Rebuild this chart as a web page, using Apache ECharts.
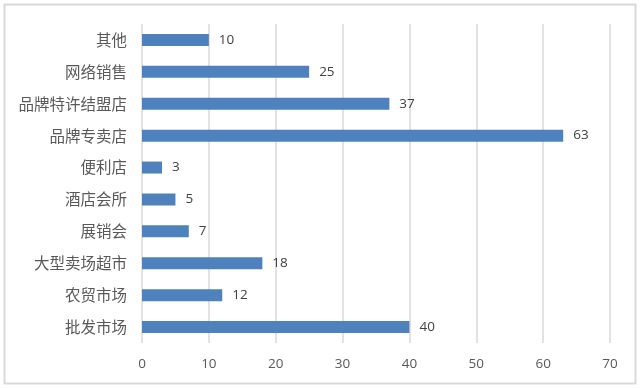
<!DOCTYPE html>
<html><head><meta charset="utf-8">
<script src="https://cdn.jsdelivr.net/npm/echarts@6/dist/echarts.min.js"></script>
<style>html,body{margin:0;padding:0;background:#fff}#c{width:640px;height:388px}</style>
</head><body><div id="c"></div>
<script>
const categories = ['其他','网络销售','品牌特许结盟店','品牌专卖店','便利店','酒店会所','展销会','大型卖场超市','农贸市场','批发市场'];
const values = [10,25,37,63,3,5,7,18,12,40];
const xTicks = [0,10,20,30,40,50,60,70];

const chart = echarts.init(document.getElementById('c'), null, {renderer:'canvas'});
chart.setOption({
  animation:false,
  backgroundColor:'#fff',
  graphic:[{type:'rect',shape:{x:4.5,y:4.5,width:631,height:379},style:{fill:'none',stroke:'#d9d9d9',lineWidth:2},silent:true}],
  grid:{left:142,right:30,top:24,bottom:45,containLabel:false},
  xAxis:{type:'value',min:xTicks[0],max:xTicks[xTicks.length-1],interval:10,
    axisLine:{show:false},axisTick:{show:false},
    splitLine:{show:true,lineStyle:{color:'#d9d9d9',width:1.5}},
    axisLabel:{color:'#595959',fontSize:13.5,margin:14,fontFamily:'"Open Sans", "DejaVu Sans", sans-serif'}},
  yAxis:{type:'category',data:categories,inverse:true,
    axisLine:{show:false},axisTick:{show:false},
    axisLabel:{color:'#595959',fontSize:15.5,margin:15,fontFamily:'"Noto Sans CJK SC", sans-serif'}},
  series:[{type:'bar',data:values,barWidth:12,
    itemStyle:{color:'#4f81bd'},
    label:{show:true,position:'right',distance:10,color:'#404040',fontSize:13.5,fontFamily:'"Open Sans", "DejaVu Sans", sans-serif'}}]
});
</script></body></html>
